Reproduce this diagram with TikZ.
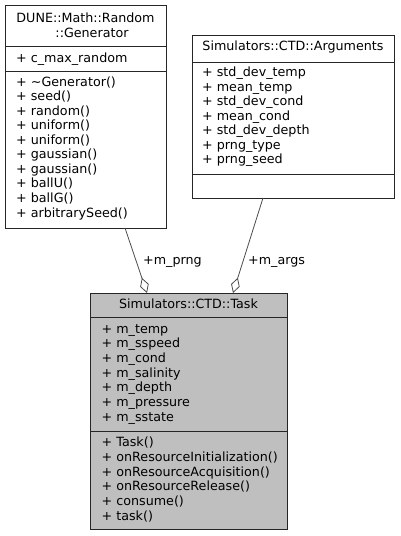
\documentclass[tikz,border=0pt]{standalone}
\usepackage{fontspec}
\setmainfont{DejaVu Sans}
\usetikzlibrary{arrows.meta}
\begin{document}
\begin{tikzpicture}[x=1pt,y=-1pt,
  box/.style={draw=black!85,line width=0.9pt},
  txt/.style={inner sep=0pt,font=\fontsize{12.7}{14.6}\selectfont,text=black},
  assoc/.style={draw=black!70,line width=0.8pt,-{Diamond[open,length=16pt,width=9pt,line width=0.8pt]}}]
\useasboundingbox (0,0) rectangle (400,536);
% Generator
\node[box,anchor=north west,minimum width=161pt,minimum height=223pt,inner sep=0pt] (gen) at (5,5) {};
\draw[box] (5,46) -- (166,46) (5,71) -- (166,71);
\node[txt,anchor=base] (gent1) at (85.5,22.6) {DUNE::Math::Random};
\node[txt,anchor=base] (gent2) at (92,37.6) {::Generator};
\node[txt,anchor=base west] (gena) at (16,62) {+ c\_max\_random};
\foreach \t [count=\i from 0] in {+ \textasciitilde Generator(),+ seed(),+ random(),+ uniform(),+ uniform(),+ gaussian(),+ gaussian(),+ ballU(),+ ballG(),+ arbitrarySeed()}
  \node[txt,anchor=base west] (genm\i) at (16,86+14.56*\i) {\t};
% Arguments
\node[box,anchor=north west,minimum width=202pt,minimum height=163pt,inner sep=0pt] (args) at (192,35) {};
\draw[box] (192,62) -- (394,62) (192,174) -- (394,174);
\node[txt,anchor=base] (argt) at (293,50.5) {Simulators::CTD::Arguments};
\foreach \t [count=\i from 0] in {+ std\_dev\_temp,+ mean\_temp,+ std\_dev\_cond,+ mean\_cond,+ std\_dev\_depth,+ prng\_type,+ prng\_seed}
  \node[txt,anchor=base west] (arga\i) at (202,76.5+14.55*\i) {\t};
% Task
\node[box,fill=black!25,anchor=north west,minimum width=197pt,minimum height=236pt,inner sep=0pt] (task) at (90,293) {};
\draw[box] (90,317) -- (287,317) (90,431) -- (287,431);
\node[txt,anchor=base] (taskt) at (188.5,308.5) {Simulators::CTD::Task};
\foreach \t [count=\i from 0] in {+ m\_temp,+ m\_sspeed,+ m\_cond,+ m\_salinity,+ m\_depth,+ m\_pressure,+ m\_sstate}
  \node[txt,anchor=base west] (taska\i) at (101.5,333+14.67*\i) {\t};
\foreach \t [count=\i from 0] in {+ Task(),+ onResourceInitialization(),+ onResourceAcquisition(),+ onResourceRelease(),+ consume(),+ task()}
  \node[txt,anchor=base west] (taskm\i) at (101.5,446.5+14.8*\i) {\t};
% connectors
\coordinate (g1) at (125,228);
\coordinate (t1) at (147,293);
\coordinate (a1) at (263,198);
\coordinate (t2) at (233,293);
\draw[assoc] (g1) -- (t1);
\draw[assoc] (a1) -- (t2);
\node[txt,anchor=base west] (lprng) at (143,264) {+m\_prng};
\node[txt,anchor=base west] (largs) at (248,264) {+m\_args};
\end{tikzpicture}
\end{document}
